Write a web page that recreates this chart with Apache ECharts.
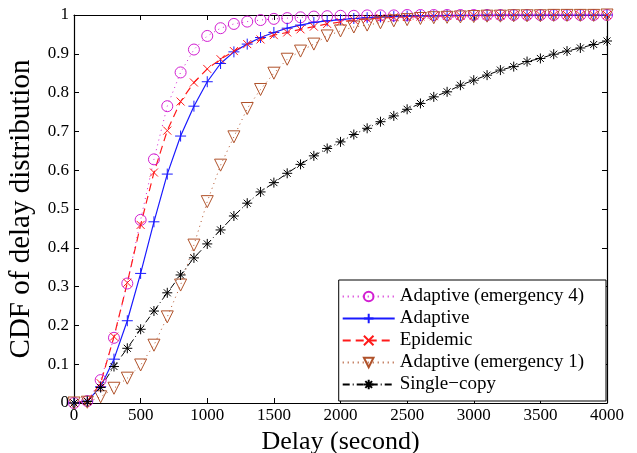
<!DOCTYPE html>
<html>
<head>
<meta charset="utf-8">
<script src="https://cdn.jsdelivr.net/npm/echarts@6/dist/echarts.min.js"></script>
<style>
  html, body { margin: 0; padding: 0; background: #fff; }
  #chart { width: 637px; height: 453px; }
</style>
</head>
<body>
<div id="chart"></div>
<script>
// delay in seconds, one sample every 100 s
var delays = [0, 100, 200, 300, 400, 500, 600, 700, 800, 900, 1000,
  1100, 1200, 1300, 1400, 1500, 1600, 1700, 1800, 1900, 2000,
  2100, 2200, 2300, 2400, 2500, 2600, 2700, 2800, 2900, 3000,
  3100, 3200, 3300, 3400, 3500, 3600, 3700, 3800, 3900, 4000];

var adaptiveEm4 = [0, 0.005, 0.059, 0.168, 0.308, 0.472, 0.628, 0.765, 0.852, 0.911, 0.946,
  0.966, 0.977, 0.983, 0.987, 0.990, 0.992, 0.994, 0.996, 0.997, 0.998,
  0.998, 0.999, 0.999, 0.999, 1, 1, 1, 1, 1, 1,
  1, 1, 1, 1, 1, 1, 1, 1, 1, 1];

var adaptive = [0, 0.005, 0.042, 0.113, 0.212, 0.334, 0.467, 0.590, 0.688, 0.765, 0.828,
  0.875, 0.905, 0.925, 0.942, 0.955, 0.966, 0.974, 0.981, 0.985, 0.988,
  0.991, 0.993, 0.995, 0.996, 0.997, 0.998, 0.998, 0.999, 0.999, 0.999,
  1, 1, 1, 1, 1, 1, 1, 1, 1, 1];

var epidemic = [0, 0.005, 0.051, 0.171, 0.310, 0.459, 0.594, 0.702, 0.777, 0.826, 0.861,
  0.886, 0.907, 0.925, 0.937, 0.948, 0.955, 0.963, 0.970, 0.977, 0.982,
  0.987, 0.990, 0.992, 0.994, 0.995, 0.996, 0.997, 0.998, 0.998, 0.999,
  0.999, 0.999, 1, 1, 1, 1, 1, 1, 1, 1];

var adaptiveEm1 = [0, 0.002, 0.016, 0.038, 0.064, 0.098, 0.149, 0.222, 0.304, 0.407, 0.519,
  0.613, 0.686, 0.759, 0.808, 0.850, 0.886, 0.907, 0.925, 0.946, 0.959,
  0.969, 0.974, 0.980, 0.985, 0.988, 0.991, 0.993, 0.994, 0.995, 0.996,
  0.997, 0.997, 0.998, 0.998, 0.998, 0.999, 0.999, 0.999, 0.999, 1];

var singleCopy = [0, 0.004, 0.040, 0.094, 0.141, 0.190, 0.237, 0.284, 0.330, 0.374, 0.410,
  0.446, 0.482, 0.515, 0.544, 0.568, 0.592, 0.615, 0.637, 0.656, 0.673,
  0.692, 0.708, 0.725, 0.740, 0.757, 0.772, 0.789, 0.802, 0.819, 0.832,
  0.845, 0.858, 0.867, 0.880, 0.888, 0.899, 0.907, 0.915, 0.924, 0.933];

var seriesNames = ["Adaptive (emergency 4)", "Adaptive", "Epidemic", "Adaptive (emergency 1)", "Single\u2212copy"];

var FONT = "Liberation Serif";

function pairs(ys) {
  return delays.map(function (x, i) { return [x, ys[i]]; });
}

// marker shapes (stroked paths)
var plusPath = "path://M5,0 L5,10 M0,5 L10,5";
var crossPath = "path://M0,0 L10,10 M10,0 L0,10";
var triDownPath = "path://M0,0 L10,0 L5,8.7 Z";
var starPath = "path://M5,0 L5,10 M0,5 L10,5 M1.5,1.5 L8.5,8.5 M8.5,1.5 L1.5,8.5";

function mkSeries(name, ys, color, lineType, symbol, size, lineWidth) {
  return {
    name: name,
    type: "line",
    data: pairs(ys),
    symbol: symbol,
    symbolSize: size,
    showAllSymbol: true,
    lineStyle: { color: color, width: lineWidth, type: lineType },
    itemStyle: { color: "rgba(0,0,0,0)", borderColor: color, borderWidth: 1 },
    emphasis: { disabled: true },
    animation: false
  };
}

var chart = echarts.init(document.getElementById("chart"));

var axisCommon = {
  axisLine: { show: true, onZero: false, lineStyle: { color: "#000", width: 1.2 } },
  axisTick: { show: true, inside: true, length: 5, lineStyle: { color: "#000" } },
  splitLine: { show: false }
};

chart.setOption({
  backgroundColor: "#fff",
  animation: false,
  grid: { left: 74, right: 30, top: 15, bottom: 50, containLabel: false, outerBoundsMode: "none" },
  legend: {
    orient: "vertical",
    right: 31,
    bottom: 52,
    data: seriesNames,
    itemWidth: 52,
    itemHeight: 12,
    itemGap: 3,
    padding: [7, 22, 7, 3],
    borderColor: "#000",
    borderWidth: 1,
    borderRadius: 0,
    backgroundColor: "#fff",
    textStyle: { fontFamily: FONT, fontSize: 19, lineHeight: 18, color: "#000" }
  },
  xAxis: [
    Object.assign({
      type: "value", min: 0, max: 4000, interval: 500,
      name: "Delay (second)", nameLocation: "middle", nameGap: 25,
      nameTextStyle: { fontFamily: FONT, fontSize: 26, color: "#000" },
      axisLabel: {
        fontFamily: FONT, fontSize: 17, color: "#000", margin: 4,
        formatter: function (v) { return String(v); }
      }
    }, axisCommon),
    Object.assign({
      type: "value", min: 0, max: 4000, interval: 500, position: "top",
      axisLabel: { show: false }
    }, axisCommon)
  ],
  yAxis: [
    Object.assign({
      type: "value", min: 0, max: 1, interval: 0.1,
      name: "CDF of delay distribution", nameLocation: "middle", nameGap: 38,
      nameTextStyle: { fontFamily: FONT, fontSize: 29, color: "#000" },
      axisLabel: { fontFamily: FONT, fontSize: 17, color: "#000", margin: 5 }
    }, axisCommon),
    Object.assign({
      type: "value", min: 0, max: 1, interval: 0.1, position: "right",
      axisLabel: { show: false }
    }, axisCommon)
  ],
  series: [
    mkSeries(seriesNames[0], adaptiveEm4, "#d21fd2", [1, 4], "circle", 11, 1),
    mkSeries(seriesNames[1], adaptive, "#1a1aff", "solid", plusPath, 11, 1.2),
    mkSeries(seriesNames[2], epidemic, "#ff1a1a", [8, 5], crossPath, 8, 1.2),
    mkSeries(seriesNames[3], adaptiveEm1, "#b0522a", [1, 4], triDownPath, 12, 1),
    mkSeries(seriesNames[4], singleCopy, "#000", [7, 3, 1, 3], starPath, 10, 1)
  ]
});
</script>
</body>
</html>
